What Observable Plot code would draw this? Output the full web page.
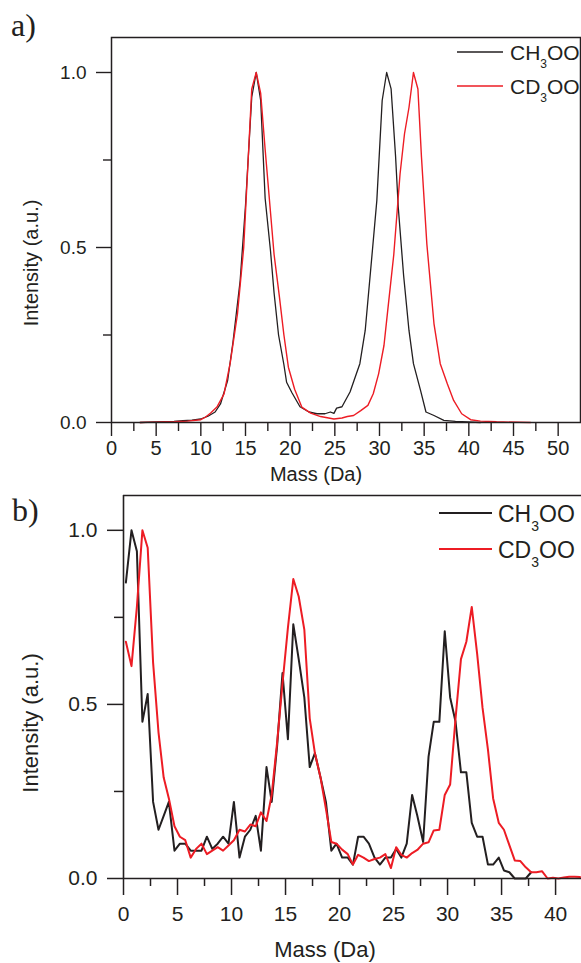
<!DOCTYPE html>
<html><head><meta charset="utf-8">
<script src="https://cdn.jsdelivr.net/npm/d3@7"></script>
<script src="https://cdn.jsdelivr.net/npm/@observablehq/plot@0.6"></script>
<style>
html,body{margin:0;padding:0;background:#fff;}
#wrap{position:relative;width:581px;height:963px;overflow:hidden;}
#wrap > svg{position:absolute;left:0;}
</style></head><body><div id="wrap"></div>
<script>
// ---- Panel a data ----
const massA_CH3 = [3.2, 5.0, 7.0, 8.0, 9.0, 10.0, 10.8, 11.6, 12.2, 13.0, 13.6, 14.4, 15.0, 15.7, 16.2, 16.7, 17.2, 17.8, 18.2, 18.7, 19.3, 19.6, 20.2, 21.1, 22.1, 23.0, 23.9, 24.5, 24.9, 25.2, 25.8, 26.7, 27.8, 28.4, 29.2, 29.7, 30.3, 30.8, 31.3, 31.8, 32.1, 32.7, 33.3, 33.8, 34.6, 35.2, 36.1, 37.2, 38.5, 41.3];
const intA_CH3  = [0.000, 0.002, 0.003, 0.005, 0.007, 0.010, 0.018, 0.030, 0.053, 0.120, 0.230, 0.405, 0.620, 0.930, 1.000, 0.920, 0.640, 0.490, 0.370, 0.250, 0.165, 0.115, 0.085, 0.045, 0.030, 0.025, 0.025, 0.030, 0.026, 0.041, 0.045, 0.087, 0.168, 0.263, 0.490, 0.634, 0.920, 1.000, 0.953, 0.760, 0.615, 0.420, 0.263, 0.168, 0.091, 0.030, 0.020, 0.006, 0.003, 0.000];
const massA_CD3 = [3.2, 5.0, 7.0, 8.5, 10.0, 10.5, 11.1, 11.8, 12.6, 13.3, 14.1, 14.8, 15.7, 16.2, 16.7, 17.2, 17.7, 18.2, 18.8, 19.3, 19.8, 20.5, 21.3, 22.3, 23.4, 24.9, 25.8, 26.4, 27.1, 27.9, 28.7, 29.3, 29.9, 30.5, 31.0, 31.6, 32.3, 32.8, 33.3, 33.8, 34.3, 34.7, 35.3, 36.1, 36.8, 37.6, 38.3, 39.2, 40.2, 41.3, 43.1, 46.9];
const intA_CD3  = [0.000, 0.001, 0.002, 0.004, 0.008, 0.015, 0.027, 0.044, 0.082, 0.172, 0.310, 0.500, 0.953, 1.000, 0.940, 0.780, 0.630, 0.480, 0.358, 0.250, 0.158, 0.095, 0.044, 0.027, 0.017, 0.010, 0.013, 0.017, 0.020, 0.034, 0.049, 0.082, 0.139, 0.220, 0.339, 0.480, 0.710, 0.825, 0.900, 1.000, 0.953, 0.758, 0.510, 0.282, 0.168, 0.110, 0.063, 0.025, 0.008, 0.004, 0.002, 0.000];

// ---- Panel b data ----
const massB = [0.22, 0.74, 1.24, 1.75, 2.24, 2.74, 3.24, 3.72, 4.20, 4.72,
  5.22, 5.72, 6.22, 6.72, 7.22, 7.72, 8.22, 8.72, 9.22, 9.72,
  10.22, 10.74, 11.24, 11.74, 12.24, 12.72, 13.24, 13.72, 14.22, 14.72,
  15.22, 15.72, 16.22, 16.74, 17.24, 17.72, 18.24, 18.74, 19.24, 19.72,
  20.24, 20.76, 21.24, 21.72, 22.22, 22.72, 23.24, 23.74, 24.24, 24.76,
  25.24, 25.72, 26.22, 26.72, 27.20, 27.74, 28.24, 28.72, 29.24, 29.74,
  30.24, 30.74, 31.24, 31.74, 32.24, 32.74, 33.24, 33.74, 34.22, 34.74,
  35.22, 35.72, 36.22, 36.74, 37.24, 37.74, 38.22, 38.74, 39.26, 39.76,
  40.26, 40.76, 41.26, 41.76, 42.26];
const intB_CH3 = [0.85, 1.00, 0.94, 0.45, 0.53, 0.22, 0.14, 0.18, 0.22, 0.08,
  0.10, 0.10, 0.08, 0.08, 0.08, 0.12, 0.085, 0.10, 0.12, 0.10,
  0.22, 0.06, 0.12, 0.14, 0.18, 0.08, 0.32, 0.22, 0.38, 0.59,
  0.40, 0.73, 0.63, 0.52, 0.32, 0.36, 0.29, 0.22, 0.08, 0.10,
  0.06, 0.06, 0.04, 0.12, 0.12, 0.10, 0.06, 0.04, 0.06, 0.06,
  0.085, 0.06, 0.10, 0.24, 0.18, 0.105, 0.35, 0.45, 0.45, 0.71,
  0.52, 0.45, 0.305, 0.305, 0.16, 0.12, 0.12, 0.04, 0.04, 0.06,
  0.023, 0.018, 0.0, 0.0, 0.0, 0.018];
const intB_CD3 = [0.68, 0.61, 0.78, 1.00, 0.95, 0.62, 0.42, 0.29, 0.23, 0.15,
  0.12, 0.11, 0.06, 0.085, 0.10, 0.07, 0.08, 0.09, 0.08, 0.095,
  0.11, 0.14, 0.135, 0.155, 0.15, 0.19, 0.165, 0.24, 0.39, 0.56,
  0.72, 0.86, 0.81, 0.715, 0.46, 0.36, 0.29, 0.20, 0.105, 0.10,
  0.083, 0.07, 0.04, 0.068, 0.06, 0.05, 0.056, 0.06, 0.07, 0.03,
  0.09, 0.068, 0.06, 0.073, 0.082, 0.10, 0.104, 0.138, 0.14, 0.24,
  0.27, 0.46, 0.63, 0.68, 0.78, 0.645, 0.49, 0.37, 0.23, 0.16,
  0.14, 0.096, 0.052, 0.05, 0.032, 0.018, 0.018, 0.021, 0.0, 0.002,
  0.0, 0.003, 0.005, 0.005, 0.004];

// ---- ticks & labels ----
const xTicksA = [0, 5, 10, 15, 20, 25, 30, 35, 40, 45, 50];
const xMinorA = [2.5, 7.5, 12.5, 17.5, 22.5, 27.5, 32.5, 37.5, 42.5, 47.5];
const xTicksB = [0, 5, 10, 15, 20, 25, 30, 35, 40];
const xMinorB = [2.5, 7.5, 12.5, 17.5, 22.5, 27.5, 32.5, 37.5];
const yTicks = [0, 0.5, 1.0];
const yMinor = [0.25, 0.75];
const seriesNames = ["CH3OO", "CD3OO"];
const xLabel = "Mass (Da)";
const yLabel = "Intensity (a.u.)";
const panelLabels = ["a)", "b)"];

const ink = "#231f20";
const red = "#ed1c24";
const sans = '"Liberation Sans", Arial, Helvetica, sans-serif';

const toRows = (xs, ys) => xs.map((m, i) => ({mass: m, intensity: ys[i]}));

const plotA = Plot.plot({
  width: 581, height: 490,
  marginLeft: 111, marginRight: 1, marginTop: 37, marginBottom: 68,
  x: {domain: [0, 52.5]},
  y: {domain: [0, 1.1]},
  style: {fontFamily: sans, fontSize: "19px", color: ink, background: "transparent"},
  marks: [
    Plot.axisX({ticks: xTicksA, tickSize: 14, tickPadding: 4, fontSize: 20, label: null, strokeWidth: 1.4}),
    Plot.axisX({ticks: xMinorA, tickSize: 9, tickFormat: () => "", label: null, strokeWidth: 1.4}),
    Plot.axisY({ticks: yTicks, tickSize: 15, tickPadding: 10, fontSize: 19, tickFormat: d3.format(".1f"), label: null, strokeWidth: 1.4}),
    Plot.axisY({ticks: yMinor, tickSize: 8, tickFormat: () => "", label: null, strokeWidth: 1.4}),
    Plot.line(toRows(massA_CH3, intA_CH3), {x: "mass", y: "intensity", stroke: ink, strokeWidth: 1.3}),
    Plot.line(toRows(massA_CD3, intA_CD3), {x: "mass", y: "intensity", stroke: red, strokeWidth: 1.4}),
    Plot.frame({stroke: ink, strokeWidth: 1.5})
  ]
});

const plotB = Plot.plot({
  width: 581, height: 473,
  marginLeft: 123, marginRight: 0, marginTop: 5, marginBottom: 85,
  x: {domain: [0, 42.4]},
  y: {domain: [0, 1.1]},
  style: {fontFamily: sans, fontSize: "21px", color: ink, background: "transparent"},
  marks: [
    Plot.axisX({ticks: xTicksB, tickSize: 17, tickPadding: 11, fontSize: 21, label: null, strokeWidth: 1.5}),
    Plot.axisX({ticks: xMinorB, tickSize: 8, tickFormat: () => "", label: null, strokeWidth: 1.5}),
    Plot.axisY({ticks: yTicks, tickSize: 16, tickPadding: 10, fontSize: 21, tickFormat: d3.format(".1f"), label: null, strokeWidth: 1.5}),
    Plot.axisY({ticks: yMinor, tickSize: 9, tickFormat: () => "", label: null, strokeWidth: 1.5}),
    Plot.line(toRows(massB.slice(0, intB_CH3.length), intB_CH3), {x: "mass", y: "intensity", stroke: ink, strokeWidth: 2}),
    Plot.line(toRows(massB, intB_CD3), {x: "mass", y: "intensity", stroke: red, strokeWidth: 2}),
    Plot.ruleX([0], {stroke: ink, strokeWidth: 1.6}),
    Plot.ruleY([0, 1.1], {stroke: ink, strokeWidth: 1.6})
  ]
});

const wrap = document.getElementById("wrap");
plotA.style.top = "0px";
plotB.style.top = "490px";
wrap.appendChild(plotA);
wrap.appendChild(plotB);

// ---- annotations: panel letters, axis titles, legends ----
const sub = (name, sfs, dy) => {
  const [a, b] = [name.slice(0, 2), name.slice(3)];
  return `${a}<tspan font-size="${sfs}" dy="${dy}">3</tspan><tspan dy="${-dy}">${b}</tspan>`;
};
const ov = document.createElementNS("http://www.w3.org/2000/svg", "svg");
ov.setAttribute("width", 581);
ov.setAttribute("height", 963);
ov.style.top = "0px";
ov.style.pointerEvents = "none";
ov.innerHTML = `
<g fill="${ink}" font-family='${sans}'>
  <text x="11" y="36" font-family='"Liberation Serif", "Times New Roman", serif' font-size="32">${panelLabels[0]}</text>
  <text x="316" y="481" text-anchor="middle" font-size="20">${xLabel}</text>
  <text transform="translate(38,263) rotate(-90)" text-anchor="middle" font-size="20">${yLabel}</text>
  <line x1="457" x2="503" y1="52" y2="52" stroke="${ink}" stroke-width="1.4"/>
  <text x="510" y="60" font-size="21">${sub(seriesNames[0], 12, 8)}</text>
  <line x1="457" x2="503" y1="86" y2="86" stroke="${red}" stroke-width="1.4"/>
  <text x="510" y="94" font-size="21">${sub(seriesNames[1], 12, 8)}</text>

  <text x="12" y="521" font-family='"Liberation Serif", "Times New Roman", serif' font-size="32">${panelLabels[1]}</text>
  <text x="325" y="957" text-anchor="middle" font-size="22">${xLabel}</text>
  <text transform="translate(38,723) rotate(-90)" text-anchor="middle" font-size="22">${yLabel}</text>
  <line x1="439" x2="492" y1="513" y2="513" stroke="${ink}" stroke-width="2"/>
  <text x="498" y="522" font-size="23">${sub(seriesNames[0], 14, 8.5)}</text>
  <line x1="439" x2="492" y1="549" y2="549" stroke="${red}" stroke-width="2"/>
  <text x="498" y="558" font-size="23">${sub(seriesNames[1], 14, 8.5)}</text>
</g>`;
wrap.appendChild(ov);
</script>
</body></html>
